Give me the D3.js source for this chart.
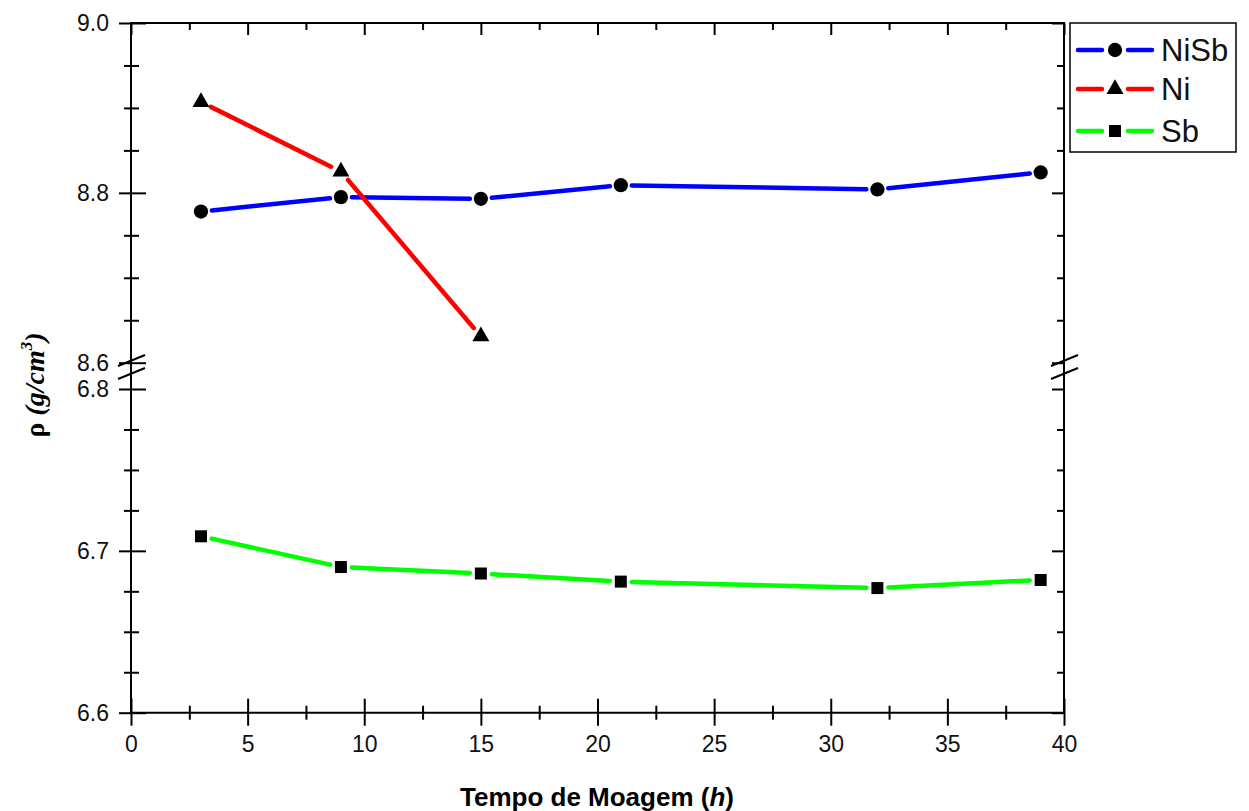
<!DOCTYPE html>
<html>
<head>
<meta charset="utf-8">
<script src="https://cdn.jsdelivr.net/npm/d3@7"></script>
<style>
  body { margin: 0; background: #fff; }
  svg { display: block; }
</style>
</head>
<body>
<div id="chart"></div>
<script>
// milling time (h) and density readings
var hours = [3, 9, 15, 21, 32, 39];
var niHours = [3, 9, 15];
var nisbRho = [8.778, 8.795, 8.793, 8.809, 8.804, 8.824];
var niRho = [8.907, 8.825, 8.631];
var sbRho = [6.709, 6.690, 6.686, 6.681, 6.677, 6.682];

var xMajor = [0, 5, 10, 15, 20, 25, 30, 35, 40];
var xMinor = [2.5, 7.5, 12.5, 17.5, 22.5, 27.5, 32.5, 37.5];
var topMajor = [8.6, 8.8, 9.0];
var topMinor = [8.65, 8.7, 8.75, 8.85, 8.9, 8.95];
var botMajor = [6.6, 6.7, 6.8];
var botMinor = [6.625, 6.65, 6.675, 6.725, 6.75, 6.775];

var svg = d3.select('#chart').append('svg')
    .attr('width', 1249)
    .attr('height', 811)
    .style('font-family', '"Liberation Sans", Arial, sans-serif');

var pLeft = 131, pRight = 1064, pTop = 23, pBottom = 712.7;

var x = d3.scaleLinear().domain([0, 40]).range([pLeft, pRight]);
// broken y axis: two segments
var yTop = d3.scaleLinear().domain([8.6, 9.0]).range([362.7, pTop]);
var yBot = d3.scaleLinear().domain([6.6, 6.8]).range([pBottom, 389]);

function drawTicks(axis, transform, vals, size, fmt, pad) {
    var g = svg.append('g')
        .attr('transform', transform)
        .call(axis.tickValues(vals).tickSize(size).tickSizeOuter(0).tickPadding(pad || 10).tickFormat(fmt));
    g.select('.domain').remove();
    g.selectAll('line').attr('stroke', '#000').attr('stroke-width', 2);
    g.selectAll('text').attr('font-size', '23px').attr('fill', '#111')
        .style('font-family', '"Liberation Sans", Arial, sans-serif');
    return g;
}
var none = function() { return ''; };
var f1 = d3.format('.1f');

// left axis (ticks cross the line) and right axis (inward)
[yTop, yBot].forEach(function(s, i) {
    var maj = i == 0 ? topMajor : botMajor;
    var mnr = i == 0 ? topMinor : botMinor;
    var tl = 'translate(' + pLeft + ',0)';
    var tr = 'translate(' + pRight + ',0)';
    drawTicks(d3.axisLeft(s), tl, maj, 12, f1);
    drawTicks(d3.axisLeft(s), tl, maj, -15, none);
    drawTicks(d3.axisLeft(s), tl, mnr, 7, none);
    drawTicks(d3.axisLeft(s), tl, mnr, -8, none);
    drawTicks(d3.axisRight(s), tr, maj, -12, none);
    drawTicks(d3.axisRight(s), tr, mnr, -7, none);
});

// bottom axis
var tb = 'translate(0,' + pBottom + ')';
drawTicks(d3.axisBottom(x), tb, xMajor, 13, d3.format('d'), 10);
drawTicks(d3.axisBottom(x), tb, xMajor, -14, none);
drawTicks(d3.axisBottom(x), tb, xMinor, 7, none);
drawTicks(d3.axisBottom(x), tb, xMinor, -7, none);
// top axis, inward only
var tt = 'translate(0,' + pTop + ')';
drawTicks(d3.axisTop(x), tt, xMajor, -12, none);
drawTicks(d3.axisTop(x), tt, xMinor, -7, none);

// frame
var frame = svg.append('g').attr('stroke', '#000').attr('stroke-width', 2);
frame.append('line').attr('x1', pLeft).attr('x2', pLeft).attr('y1', pTop - 1).attr('y2', pBottom + 1);
frame.append('line').attr('x1', pRight).attr('x2', pRight).attr('y1', pTop - 1).attr('y2', pBottom + 1);
frame.append('line').attr('x1', pLeft).attr('x2', pRight).attr('y1', pTop).attr('y2', pTop);
frame.append('line').attr('x1', pLeft).attr('x2', pRight).attr('y1', pBottom).attr('y2', pBottom);

// axis break marks
[pLeft, pRight].forEach(function(ax) {
    [0, 13].forEach(function(off) {
        frame.append('line')
            .attr('x1', ax - 13).attr('y1', 366 + off)
            .attr('x2', ax + 14).attr('y2', 355 + off);
    });
});

// series
var series = [
    { name: 'NiSb', xs: hours, ys: nisbRho, scale: yTop, color: '#0000ff', sym: d3.symbolCircle, size: 160 },
    { name: 'Ni', xs: niHours, ys: niRho, scale: yTop, color: '#ff0000', sym: d3.symbolTriangle, size: 125 },
    { name: 'Sb', xs: hours, ys: sbRho, scale: yBot, color: '#00ff00', sym: d3.symbolSquare, size: 144 }
];

var gap = 11;
series.forEach(function(s) {
    var pts = s.xs.map(function(d, i) { return [x(d), s.scale(s.ys[i])]; });
    var g = svg.append('g');
    for (var i = 0; i < pts.length - 1; i++) {
        var a = pts[i], b = pts[i + 1];
        var dx = b[0] - a[0], dy = b[1] - a[1];
        var len = Math.sqrt(dx * dx + dy * dy);
        var ux = dx / len, uy = dy / len;
        g.append('line')
            .attr('x1', a[0] + ux * gap).attr('y1', a[1] + uy * gap)
            .attr('x2', b[0] - ux * gap).attr('y2', b[1] - uy * gap)
            .attr('stroke', s.color).attr('stroke-width', 4.5)
            .attr('stroke-linecap', 'round');
    }
    g.selectAll('path').data(pts).join('path')
        .attr('d', d3.symbol().type(s.sym).size(s.size))
        .attr('transform', function(p) { return 'translate(' + p[0] + ',' + p[1] + ')'; })
        .attr('fill', '#000');
});

// legend
var leg = svg.append('g');
leg.append('rect')
    .attr('x', 1070).attr('y', 23).attr('width', 166).attr('height', 129)
    .attr('fill', '#fff').attr('stroke', '#000').attr('stroke-width', 1.5);
var rowY = [50, 89, 131];
series.forEach(function(s, i) {
    var y = rowY[i];
    leg.append('line').attr('x1', 1078).attr('x2', 1102).attr('y1', y).attr('y2', y)
        .attr('stroke', s.color).attr('stroke-width', 4.5).attr('stroke-linecap', 'round');
    leg.append('line').attr('x1', 1128).attr('x2', 1152).attr('y1', y).attr('y2', y)
        .attr('stroke', s.color).attr('stroke-width', 4.5).attr('stroke-linecap', 'round');
    leg.append('path')
        .attr('d', d3.symbol().type(s.sym).size(s.size))
        .attr('transform', 'translate(1115,' + y + ')')
        .attr('fill', '#000');
    leg.append('text')
        .attr('x', 1161).attr('y', y).attr('dy', '0.36em')
        .attr('font-size', '31px').attr('fill', '#111')
        .text(s.name);
});

// axis titles
var xt = svg.append('text')
    .attr('x', 597).attr('y', 806)
    .attr('text-anchor', 'middle')
    .attr('font-size', '26px').attr('font-weight', 'bold')
    .text('Tempo de Moagem (');
xt.append('tspan').attr('font-style', 'italic').text('h');
xt.append('tspan').text(')');

var yt = svg.append('text')
    .attr('transform', 'translate(44,385) rotate(-90)')
    .attr('text-anchor', 'middle')
    .attr('font-size', '28px').attr('font-weight', 'bold')
    .style('font-family', '"Liberation Serif", "Times New Roman", serif');
yt.append('tspan').text('\u03c1 ');
yt.append('tspan').attr('font-style', 'italic').text('(g/cm');
yt.append('tspan').attr('font-style', 'italic').attr('font-size', '17px').attr('dy', -12).text('3');
yt.append('tspan').attr('font-style', 'italic').attr('dy', 12).text(')');
</script>
</body>
</html>
